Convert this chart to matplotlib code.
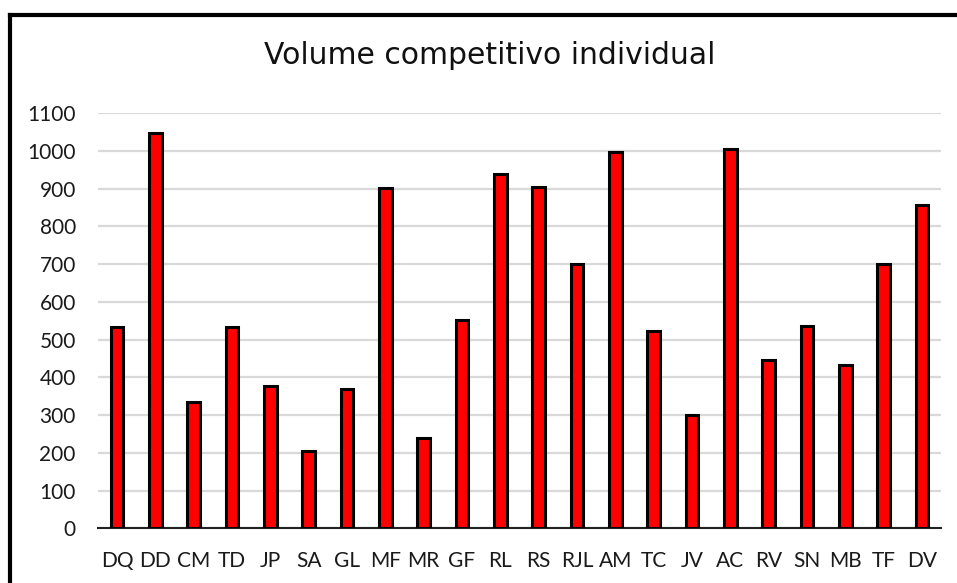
import matplotlib
matplotlib.use("Agg")
import matplotlib.pyplot as plt
from matplotlib.lines import Line2D

categories = ["DQ", "DD", "CM", "TD", "JP", "SA", "GL", "MF", "MR", "GF", "RL",
              "RS", "RJL", "AM", "TC", "JV", "AC", "RV", "SN", "MB", "TF", "DV"]
values = [534, 1046, 334, 532, 378, 205, 368, 902, 238, 551, 938,
          904, 701, 998, 522, 300, 1004, 447, 536, 433, 701, 857]
yticks = [0, 100, 200, 300, 400, 500, 600, 700, 800, 900, 1000, 1100]
title = "Volume competitivo individual"

W, H = 957, 583
fig = plt.figure(figsize=(W / 100, H / 100), dpi=100)
fig.patch.set_facecolor("white")

left, right, bottom, top = 98, 941, 528.3, 113
ax = fig.add_axes([left / W, 1 - bottom / H, (right - left) / W, (bottom - top) / H])

x = list(range(len(categories)))
ax.bar(x, values, width=0.33, color="#ff0000", edgecolor="black", linewidth=2.2, zorder=3)

ax.set_xlim(-0.5, len(categories) - 0.5)
ax.set_ylim(0, 1100)
ax.set_yticks(yticks)
ax.set_yticklabels([str(v) for v in yticks], fontsize=15, family="Lato", color="#1a1a1a")
ax.set_xticks(x)
ax.set_xticklabels(categories, fontsize=15, family="Lato", color="#1a1a1a")
ax.tick_params(axis="both", length=0)
ax.tick_params(axis="y", pad=16)
ax.tick_params(axis="x", pad=16)
ax.grid(axis="y", color="#d9d9d9", linewidth=1.6, zorder=0)
for s in ["top", "right", "left"]:
    ax.spines[s].set_visible(False)
ax.spines["bottom"].set_color("#222222")
ax.spines["bottom"].set_linewidth(1.5)

fig.text(490 / W, 1 - 56 / H, title, ha="center", va="center", fontsize=21.5,
         family="DejaVu Sans", color="#111111")

# outer frame (top and left edges visible)
fig.add_artist(Line2D([10 / W, 1.02], [1 - 15 / H, 1 - 15 / H], transform=fig.transFigure,
                      color="black", linewidth=3))
fig.add_artist(Line2D([10 / W, 10 / W], [1 - 15 / H, -0.02], transform=fig.transFigure,
                      color="black", linewidth=3))

fig.savefig("out.png", dpi=100)
